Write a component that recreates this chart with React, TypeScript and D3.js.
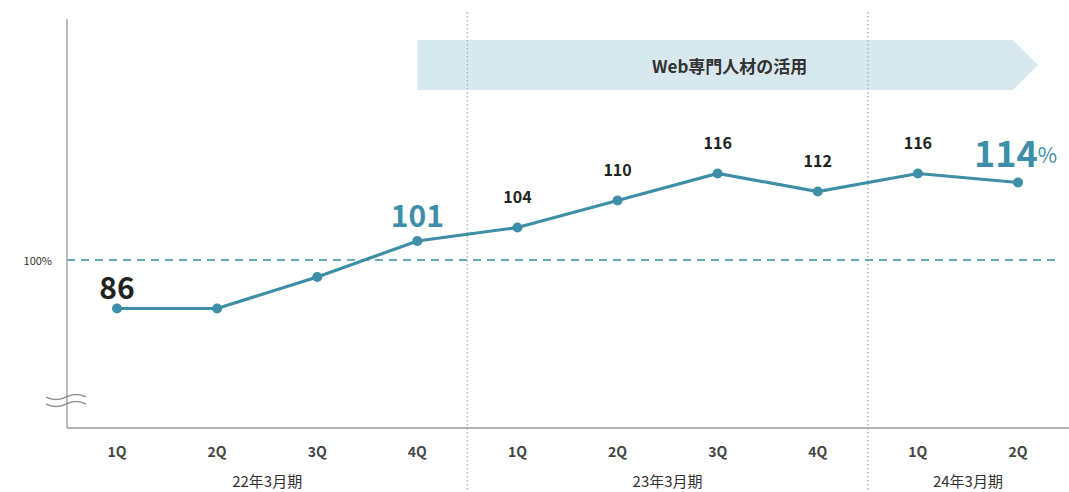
// @ts-nocheck
import * as d3 from "d3";

const quarters = ["1Q", "2Q", "3Q", "4Q", "1Q", "2Q", "3Q", "4Q", "1Q", "2Q"];
const fiscalYears = ["22年3月期", "23年3月期", "24年3月期"];
const yearOfQuarter = [0, 0, 0, 0, 1, 1, 1, 1, 2, 2];
const values = [86, 86, 93, 101, 104, 110, 116, 112, 116, 114];
// label kind per point: "" = none, "dark" = big black, "accent" = big blue, "small" = regular
const labelKind = ["dark", "", "", "accent", "small", "small", "small", "small", "small", "accentPct"];
const refLineValue = 96.8;
const refLineLabel = "100%";
const bannerText = "Web専門人材の活用";
const bannerFrom = 3;

const W = 1069;
const H = 492;
const FONT = "'Noto Sans CJK JP', 'Noto Sans', sans-serif";
const LINE = "#3d8ea6";
const AXIS = "#bdbdbd";

export default function App() {
  const keys = quarters.map((_, i) => i);
  const x = d3.scalePoint().domain(keys).range([117, 1018]);
  const y = d3.scaleLinear().domain([86, 116]).range([308.5, 173.5]);
  const axisX = 67;
  const axisY = 428;

  const line = d3
    .line<number>()
    .x((_, i) => x(i))
    .y((d) => y(d));

  // dividers between fiscal years
  const dividers = [];
  for (let i = 1; i < values.length; i++) {
    if (yearOfQuarter[i] !== yearOfQuarter[i - 1]) dividers.push((x(i - 1) + x(i)) / 2);
  }

  const groupCenters = fiscalYears.map((_, g) => {
    const idx = keys.filter((i) => yearOfQuarter[i] === g);
    return (x(idx[0]) + x(idx[idx.length - 1])) / 2;
  });

  const bx0 = x(bannerFrom);
  const bx1 = x(values.length - 1) - 5;
  const bTip = x(values.length - 1) + 20;
  const by0 = 40;
  const by1 = 90;
  const bannerPath = `M${bx0},${by0}L${bx1},${by0}L${bTip},${(by0 + by1) / 2}L${bx1},${by1}L${bx0},${by1}Z`;

  const wave = (yy: number) => {
    const pts = d3.range(0, 41).map((k) => [46 + k, yy + 2.5 * Math.sin((k / 40) * Math.PI * 2)]);
    return d3.line().curve(d3.curveBasis)(pts);
  };

  return (
    <svg
      width={W}
      height={H}
      style={{ position: "absolute", left: 0, top: 0, background: "#fff" }}
      fontFamily={FONT}
    >
      {/* banner */}
      <path d={bannerPath} fill="#d8e8ef" />
      <text
        x={(bx0 + bTip) / 2 + 2}
        y={(by0 + by1) / 2}
        textAnchor="middle"
        dominantBaseline="central"
        fontSize={17}
        fontWeight="bold"
        fill="#333"
      >
        {bannerText}
      </text>

      {/* dividers */}
      {dividers.map((dx, i) => (
        <line
          key={i}
          x1={dx}
          x2={dx}
          y1={12}
          y2={H}
          stroke="#b5b5b5"
          strokeWidth={1.5}
          strokeDasharray="1.5 2.5"
        />
      ))}

      {/* axes */}
      <line x1={axisX} x2={axisX} y1={19} y2={axisY} stroke={AXIS} strokeWidth={2} />
      <line x1={axisX} x2={W} y1={axisY} y2={axisY} stroke="#9a9a9a" strokeWidth={1.5} />

      {/* axis break */}
      <rect x={44} y={392} width={44} height={18} fill="#fff" />
      <line x1={axisX} x2={axisX} y1={392} y2={410} stroke={AXIS} strokeWidth={2} />
      <path d={wave(397)} fill="none" stroke="#8a8a8a" strokeWidth={1.3} />
      <path d={wave(404)} fill="none" stroke="#8a8a8a" strokeWidth={1.3} />

      {/* reference line */}
      <line
        x1={axisX}
        x2={W - 11}
        y1={y(refLineValue)}
        y2={y(refLineValue)}
        stroke="#6aaab8"
        strokeWidth={2}
        strokeDasharray="8 6"
      />
      <text x={52} y={y(refLineValue)} textAnchor="end" dominantBaseline="central" fontSize={11} fill="#333">
        {refLineLabel}
      </text>

      {/* series */}
      <path d={line(values)} fill="none" stroke={LINE} strokeWidth={3.2} />
      {values.map((v, i) => (
        <circle key={i} cx={x(i)} cy={y(v)} r={5} fill={LINE} />
      ))}

      {/* value labels */}
      {values.map((v, i) => {
        const k = labelKind[i];
        if (!k) return null;
        if (k === "small")
          return (
            <text key={i} x={x(i)} y={y(v) - 32} textAnchor="middle" dominantBaseline="central" fontSize={16} fontWeight="bold" fill="#222">
              {v}
            </text>
          );
        if (k === "dark")
          return (
            <text key={i} x={x(i)} y={y(v) - 23} textAnchor="middle" dominantBaseline="central" fontSize={30} fontWeight="bold" fill="#222">
              {v}
            </text>
          );
        if (k === "accent")
          return (
            <text key={i} x={x(i)} y={y(v) - 27} textAnchor="middle" dominantBaseline="central" fontSize={30} fontWeight="bold" fill={LINE}>
              {v}
            </text>
          );
        return (
          <text key={i} x={x(i) - 44} y={y(v) - 32} textAnchor="start" dominantBaseline="central" fontSize={36} fontWeight="bold" fill={LINE}>
            {v}
            <tspan fontSize={21} fontWeight="normal" dy={3}>%</tspan>
          </text>
        );
      })}

      {/* x labels */}
      {quarters.map((q, i) => (
        <text key={i} x={x(i)} y={451} textAnchor="middle" dominantBaseline="central" fontSize={14} fontWeight="bold" fill="#444">
          {q}
        </text>
      ))}
      {fiscalYears.map((fy, g) => (
        <text key={g} x={groupCenters[g]} y={480} textAnchor="middle" dominantBaseline="central" fontSize={15} fill="#333">
          {fy}
        </text>
      ))}
    </svg>
  );
}
